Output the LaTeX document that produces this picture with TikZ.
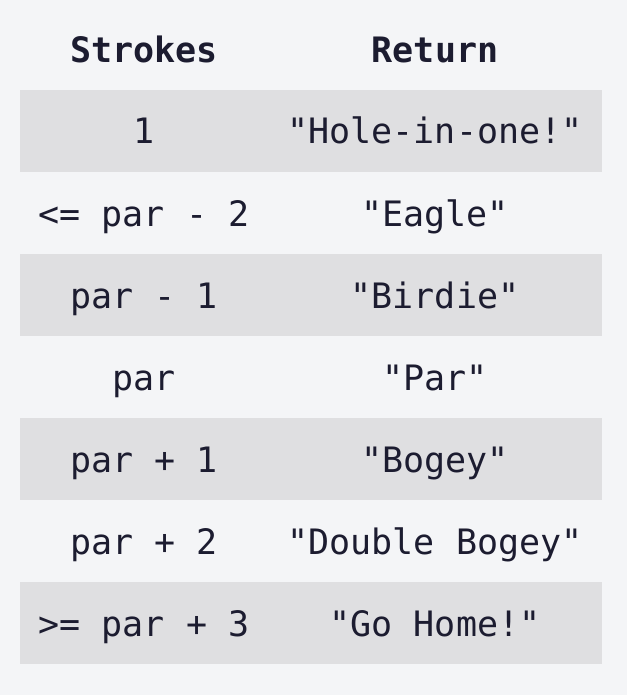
\documentclass[tikz,border=0pt]{standalone}
\usepackage{fontspec}
\setmonofont{DejaVu Sans Mono}
\definecolor{bg}{HTML}{F4F5F7}
\definecolor{band}{HTML}{DFDFE1}
\definecolor{ink}{HTML}{1C1C30}
\begin{document}
\begin{tikzpicture}[x=1pt,y=-1pt,
  cell/.style={anchor=base,inner sep=0pt,text=ink,font=\ttfamily\fontsize{35}{40}\selectfont},
  head/.style={cell,font=\ttfamily\bfseries\fontsize{35}{40}\selectfont}]
\fill[bg] (0,0) rectangle (627,695);
\useasboundingbox (0,0) rectangle (627,695);
\foreach \t in {90,254,418,582}
  \fill[band] (20,\t) rectangle (602,\t+82);
\node[head] (h1) at (144,63) {Strokes};
\node[head] (h2) at (435,63) {Return};
\node[cell] (s1) at (144,144) {1};
\node[cell] (r1) at (435,144) {"Hole-in-one!"};
\node[cell] (s2) at (144,226) {<= par - 2};
\node[cell] (r2) at (435,226) {"Eagle"};
\node[cell] (s3) at (144,308) {par - 1};
\node[cell] (r3) at (435,308) {"Birdie"};
\node[cell] (s4) at (144,390) {par};
\node[cell] (r4) at (435,390) {"Par"};
\node[cell] (s5) at (144,472) {par + 1};
\node[cell] (r5) at (435,472) {"Bogey"};
\node[cell] (s6) at (144,554) {par + 2};
\node[cell] (r6) at (435,554) {"Double Bogey"};
\node[cell] (s7) at (144,636) {>= par + 3};
\node[cell] (r7) at (435,636) {"Go Home!"};
\end{tikzpicture}
\end{document}
